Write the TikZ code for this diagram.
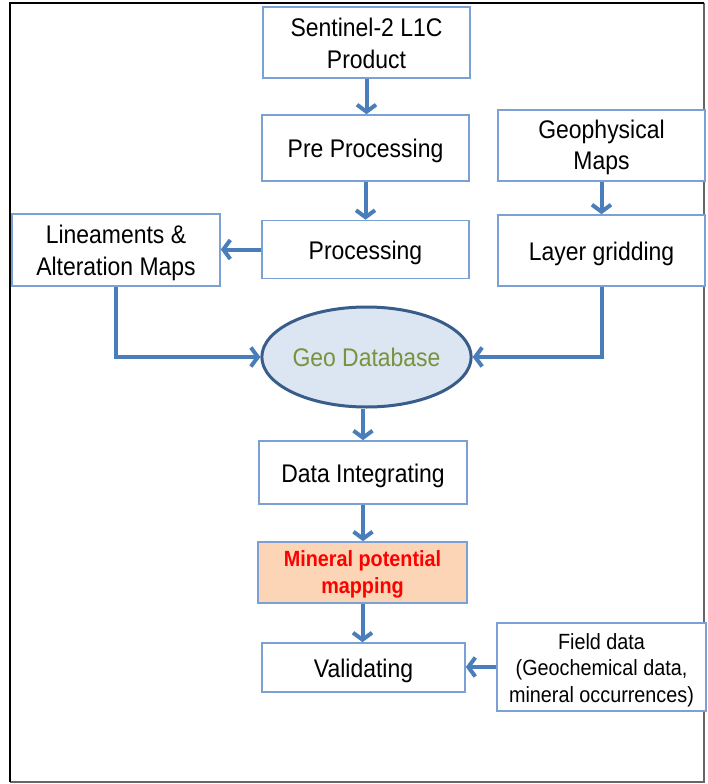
\documentclass[tikz,border=0pt]{standalone}
\usepackage{fontspec}
\setmainfont{Liberation Sans}[FakeStretch=0.9]
\usetikzlibrary{arrows.meta,shapes.geometric}
\definecolor{boxc}{HTML}{7BA0D4}
\definecolor{arrc}{HTML}{4A7EBB}
\definecolor{ellfill}{HTML}{DCE6F2}
\definecolor{elldraw}{HTML}{385D8A}
\definecolor{geotext}{HTML}{77933C}
\definecolor{peach}{HTML}{FBD5B5}
\newcommand{\bigfs}{\fontsize{25.5}{31.5}\selectfont}
\newcommand{\smfs}{\fontsize{22}{26.5}\selectfont}
\newcommand{\uprule}[1]{\rule{0pt}{#1}}
\tikzset{
  box/.style={draw=boxc, line width=1.6pt, fill=white, inner sep=0pt, align=center, font=\bigfs, text=black},
  oneline/.style={text height=19pt, text depth=0pt},
  arr/.style={draw=arrc, line width=4pt, -{Straight Barb[length=7pt,width=19pt]}},
}
\begin{document}
\begin{tikzpicture}[x=1pt,y=-1pt]
\useasboundingbox (0,0) rectangle (707,784);
\fill[white] (0,0) rectangle (707,784);
% frame
\draw[black!60, line width=2pt] (10,782) -- (704,782) -- (704,3);
\draw[black, line width=2pt] (10,782) -- (10,3) -- (704,3);
% nodes
\node[box, minimum width=207pt, minimum height=71pt] (sen) at (366.5,42.5) {\uprule{20.5pt}Sentinel-2 L1C\\Product};
\node[box, oneline, minimum width=207pt, minimum height=66pt] (pre) at (365.5,148) {Pre Processing};
\node[box, oneline, minimum width=207pt, minimum height=58pt] (proc) at (365.5,249.5) {Processing};
\node[box, minimum width=207pt, minimum height=71pt] (geo) at (601.5,145.5) {\uprule{22.5pt}Geophysical\\Maps};
\node[box, oneline, minimum width=207pt, minimum height=71pt] (lay) at (601.5,250.5) {Layer gridding};
\node[box, minimum width=208pt, minimum height=72pt] (lin) at (116,250) {\uprule{24.5pt}Lineaments \&\\Alteration Maps};
\node[ellipse, oneline, draw=elldraw, line width=3pt, fill=ellfill, minimum width=209pt, minimum height=100pt, inner sep=0pt, font=\bigfs, text=geotext] (db) at (366.5,357) {Geo Database};
\node[box, oneline, minimum width=208pt, minimum height=63pt] (di) at (363,472.5) {Data Integrating};
\node[box, fill=peach, minimum width=209pt, minimum height=61pt, font=\smfs\bfseries, text=red] (mp) at (362.5,572.5) {\uprule{20pt}Mineral potential\\mapping};
\node[box, oneline, minimum width=203pt, minimum height=49pt] (val) at (363.5,667.5) {Validating};
\node[box, minimum width=209pt, minimum height=88pt, font=\smfs] (fd) at (601.5,667) {\uprule{22pt}Field data\\(Geochemical data,\\mineral occurrences)};
% connectors
\draw[arr] (sen.south) -- (sen.south |- pre.north);
\draw[arr] (pre.south) -- (pre.south |- proc.north);
\draw[arr] (geo.south) -- (geo.south |- lay.north);
\draw[arr] (proc.west) -- (lin.east |- proc.west);
\draw[arr] (lin.south) |- (db.west);
\draw[arr] (lay.south) |- (db.east);
\draw[arr] (di.north |- db.south) -- (di.north);
\draw[arr] (di.south) -- (di.south |- mp.north);
\draw[arr] (mp.south) -- (mp.south |- val.north);
\draw[arr] (fd.west) -- (val.east |- fd.west);
\end{tikzpicture}
\end{document}
